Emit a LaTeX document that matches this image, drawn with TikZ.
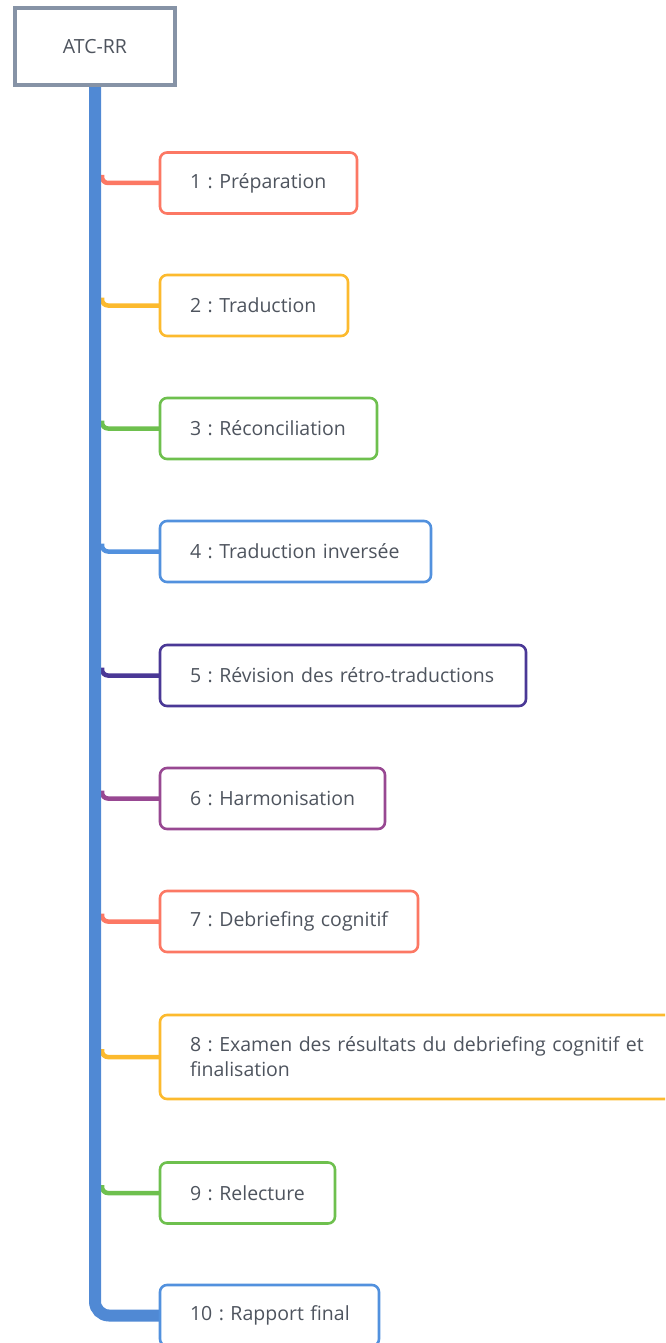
\documentclass[tikz,border=0pt]{standalone}
\usepackage{fontspec}
\setmainfont{Open Sans}
\usepackage{xcolor}
\usetikzlibrary{positioning,calc,backgrounds}
\frenchspacing
\hyphenpenalty=10000
\definecolor{rootgray}{RGB}{134,147,166}
\definecolor{txtgray}{RGB}{78,84,94}
\definecolor{trunkblue}{RGB}{80,137,212}
\definecolor{csalmon}{RGB}{252,120,100}
\definecolor{corange}{RGB}{252,186,46}
\definecolor{cgreen}{RGB}{110,192,78}
\definecolor{cblue}{RGB}{82,145,222}
\definecolor{cindigo}{RGB}{74,56,150}
\definecolor{cplum}{RGB}{152,72,146}
\tikzset{
  rootbox/.style ={draw=rootgray,line width=4pt,fill=white,minimum width=160pt,
                   minimum height=77pt,outer sep=0pt,text=txtgray,
                   font=\fontsize{19.5}{25}\selectfont},
  stepbox/.style ={draw,line width=2.6pt,fill=white,rounded corners=7pt,outer sep=0pt,
                   inner xsep=30pt,inner ysep=0pt,align=left,text=txtgray,
                   font=\fontsize{19.5}{25}\selectfont},
  trunk/.style   ={draw=trunkblue,line width=12pt,rounded corners=14pt},
  branch/.style  ={line width=4.5pt,rounded corners=6pt},
}
\begin{document}
\begin{tikzpicture}[x=1pt,y=-1pt]
  \useasboundingbox (0,0) rectangle (665,1343);
  \clip (0,0) rectangle (665,1343);
  % root node
  \node[rootbox] (root) at (95,46.5) {ATC-RR};
  \coordinate (edge) at (102,0);
  % the ten steps
  \foreach \i/\y/\w/\h/\col/\txt in {
      1/183/197/61/csalmon/{\mbox{1 : Préparation}},
      2/305.5/188/61/corange/{\mbox{2 : Traduction}},
      3/428.5/217/61/cgreen/{\mbox{3 : Réconciliation}},
      4/551.5/271/61/cblue/{\mbox{4 : Traduction inversée}},
      5/675.5/366/61/cindigo/{\mbox{5 : Révision des rétro-traductions}},
      6/798.5/225/61/cplum/{\mbox{6 : Harmonisation}},
      7/921.5/258/61/csalmon/{\mbox{7 : Debriefing cognitif}},
      8/1057/560/84/corange/{\mbox{8 : Examen des résultats du debriefing cognitif et}\\finalisation},
      9/1193/175/61/cgreen/{\mbox{9 : Relecture}},
      10/1315.5/219/61/cblue/{\mbox{10 : Rapport final}}}{
    \pgfmathsetmacro\tw{\w-60}
    \node[stepbox,draw=\col,minimum width=\w pt,minimum height=\h pt,
          text width=\tw pt,anchor=west] (b\i) at (160,\y) {\txt};
    \ifnum\i<10
      \begin{scope}[on background layer]
        \draw[branch,draw=\col] ($(b\i.west -| edge)+(0,-8)$) |- (b\i.west);
      \end{scope}
    \fi
  }
  % trunk
  \begin{scope}[on background layer]
    \draw[trunk] (root.south) |- (b10.west);
  \end{scope}
\end{tikzpicture}
\end{document}
